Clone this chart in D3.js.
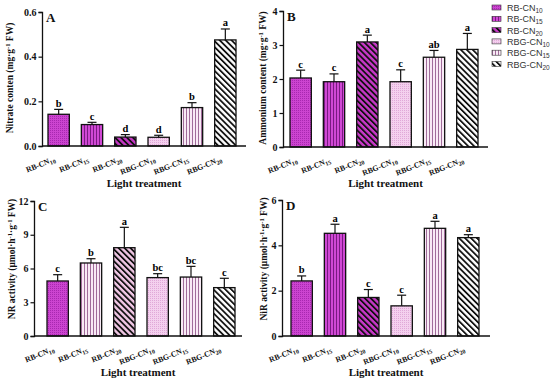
<!DOCTYPE html>
<html>
<head>
<meta charset="utf-8">
<script src="https://cdn.jsdelivr.net/npm/d3@7"></script>
<style>
  body { margin: 0; background: #fff; }
  svg { display: block; }
</style>
</head>
<body>
<svg id="chart" width="550" height="381"></svg>
<script>
// treatments
const labelBase = ['RB-CN', 'RB-CN', 'RB-CN', 'RBG-CN', 'RBG-CN', 'RBG-CN']
const labelSub = ['10', '15', '20', '10', '15', '20']

// panel A - nitrate
const nitrate = [0.142, 0.096, 0.040, 0.039, 0.172, 0.475]
const nitrateErr = [0.022, 0.010, 0.011, 0.009, 0.022, 0.049]
const nitrateSig = ['b', 'c', 'd', 'd', 'b', 'a']

// panel B - ammonium
const ammonium = [2.03, 1.92, 3.09, 1.92, 2.64, 2.87]
const ammoniumErr = [0.23, 0.23, 0.20, 0.35, 0.20, 0.47]
const ammoniumSig = ['c', 'c', 'a', 'c', 'ab', 'a']

// panel C - NR activity
const nr = [4.89, 6.49, 7.85, 5.19, 5.24, 4.30]
const nrErr = [0.56, 0.38, 1.81, 0.35, 0.95, 0.83]
const nrSig = ['c', 'b', 'a', 'bc', 'bc', 'c']

// panel D - NiR activity
const nir = [2.43, 4.53, 1.70, 1.33, 4.75, 4.34]
const nirErr = [0.22, 0.40, 0.35, 0.47, 0.31, 0.13]
const nirSig = ['b', 'a', 'c', 'c', 'a', 'a']

const svg = d3.select('#chart')
const serif = '"Liberation Serif", "Times New Roman", serif'
const sans = '"Liberation Sans", Arial, sans-serif'

// fill patterns
const defs = svg.append('defs')

function dotPattern (id, bg, dot) {
  const p = defs.append('pattern').attr('id', id)
    .attr('width', 2).attr('height', 2).attr('patternUnits', 'userSpaceOnUse')
  p.append('rect').attr('width', 2).attr('height', 2).attr('fill', bg)
  p.append('rect').attr('width', 1).attr('height', 1).attr('fill', dot)
}

function stripePattern (id, bg, line, period, lw, angle) {
  const p = defs.append('pattern').attr('id', id)
    .attr('width', period).attr('height', period).attr('patternUnits', 'userSpaceOnUse')
    .attr('patternTransform', 'rotate(' + angle + ')')
  p.append('rect').attr('width', period).attr('height', period).attr('fill', bg)
  p.append('rect').attr('width', lw).attr('height', period).attr('fill', line)
}

dotPattern('rb10', '#cc44d0', '#a828b0')
stripePattern('rb15', '#d048d4', '#7a1a82', 3, 1, 0)
stripePattern('rb20', '#c838c8', '#111', 4.2, 1.8, -45)
dotPattern('rbg10', '#f4d0ee', '#e0a8d8')
stripePattern('rbg15', '#f8eaf5', '#a06c9a', 3, 1, 0)
stripePattern('rbg20', '#ffffff', '#111', 4.2, 1.8, -45)
stripePattern('rbgp20', '#f2c8e6', '#111', 4.2, 1.8, -45)

const legendKeys = ['rb10', 'rb15', 'rb20', 'rbg10', 'rbg15', 'rbg20']

const panels = [
  {
    letter: 'A', values: nitrate, errs: nitrateErr, sig: nitrateSig,
    fills: legendKeys, max: 0.6, ticks: [0, 0.2, 0.4, 0.6], fmt: d3.format('.1f'),
    axisX: 42, axisEnd: 246, band: [42, 242], top: 12, bottom: 146,
    ylabel: ['Nitrate conten (mg·g', '-1', ' FW)'], ylabelX: 10, ylabelY: 78, titleY: 187
  },
  {
    letter: 'B', values: ammonium, errs: ammoniumErr, sig: ammoniumSig,
    fills: legendKeys, max: 4, ticks: [0, 1, 2, 3, 4], fmt: d3.format('d'),
    axisX: 283, axisEnd: 488, band: [284, 484], top: 11, bottom: 147,
    ylabel: ['Ammonium content (mg·g', '-1', ' FW)'], ylabelX: 263, ylabelY: 78, titleY: 187
  },
  {
    letter: 'C', values: nr, errs: nrErr, sig: nrSig,
    fills: ['rb10', 'rbg15', 'rbgp20', 'rbg10', 'rbg15', 'rbg20'], max: 12, ticks: [0, 3, 6, 9, 12], fmt: d3.format('d'),
    axisX: 34, axisEnd: 242, band: [41, 241], top: 201, bottom: 336,
    ylabel: ['NR activity (μmol·h', '-1', '·g', '-1', ' FW)'], ylabelX: 12, ylabelY: 259, titleY: 376
  },
  {
    letter: 'D', values: nir, errs: nirErr, sig: nirSig,
    fills: legendKeys, max: 6, ticks: [0, 2, 4, 6], fmt: d3.format('d'),
    axisX: 282, axisEnd: 490, band: [285, 485], top: 200, bottom: 336,
    ylabel: ['NiR activity (μmol·h', '-1', '·g', '-1', ' FW)'], ylabelX: 264, ylabelY: 259, titleY: 376
  }
]

panels.forEach(drawPanel)

function drawPanel (p) {
  const g = svg.append('g')
  const idx = d3.range(p.values.length)
  const x = d3.scaleBand().domain(idx).range(p.band).paddingInner(0.36).paddingOuter(0.18)
  const y = d3.scaleLinear().domain([0, p.max]).range([p.bottom, p.top])

  // bars
  g.selectAll('rect.bar').data(idx).join('rect')
    .attr('class', 'bar')
    .attr('x', i => x(i))
    .attr('y', i => y(p.values[i]))
    .attr('width', x.bandwidth())
    .attr('height', i => y(0) - y(p.values[i]))
    .attr('fill', i => 'url(#' + p.fills[i] + ')')
    .attr('stroke', '#111')
    .attr('stroke-width', 1.3)

  // error bars (upper only)
  const eb = g.selectAll('g.err').data(idx).join('g').attr('class', 'err')
    .attr('stroke', '#111').attr('stroke-width', 1.2)
  eb.append('line')
    .attr('x1', i => x(i) + x.bandwidth() / 2)
    .attr('x2', i => x(i) + x.bandwidth() / 2)
    .attr('y1', i => y(p.values[i]))
    .attr('y2', i => y(p.values[i] + p.errs[i]))
  eb.append('line')
    .attr('x1', i => x(i) + x.bandwidth() / 2 - 4.5)
    .attr('x2', i => x(i) + x.bandwidth() / 2 + 4.5)
    .attr('y1', i => y(p.values[i] + p.errs[i]))
    .attr('y2', i => y(p.values[i] + p.errs[i]))

  // significance letters
  g.selectAll('text.sig').data(idx).join('text')
    .attr('class', 'sig')
    .attr('x', i => x(i) + x.bandwidth() / 2)
    .attr('y', i => y(p.values[i] + p.errs[i]) - 2.5)
    .attr('text-anchor', 'middle')
    .style('font-family', serif).style('font-weight', 'bold').style('font-size', '10.5px')
    .text(i => p.sig[i])

  // y axis
  const yAxis = g.append('g')
    .attr('transform', 'translate(' + p.axisX + ',0)')
    .call(d3.axisLeft(y).tickValues(p.ticks).tickFormat(p.fmt).tickSize(3.5).tickPadding(2))
  yAxis.select('.domain').attr('stroke', '#111').attr('stroke-width', 1.3)
  yAxis.selectAll('.tick line').attr('stroke', '#111').attr('stroke-width', 1.2)
  yAxis.selectAll('.tick text')
    .style('font-family', serif).style('font-weight', 'bold').style('font-size', '10px').attr('fill', '#111')

  // x axis line
  g.append('line')
    .attr('x1', p.axisX).attr('x2', p.axisEnd)
    .attr('y1', p.bottom).attr('y2', p.bottom)
    .attr('stroke', '#111').attr('stroke-width', 1.4)

  // rotated category labels
  const lbl = g.selectAll('text.cat').data(idx).join('text')
    .attr('class', 'cat')
    .attr('transform', i => 'translate(' + (x(i) + x.bandwidth() / 2 - 3) + ',' + (p.bottom + 15) + ') rotate(-22)')
    .attr('text-anchor', 'end')
    .style('font-family', serif).style('font-weight', 'bold').style('font-size', '7.8px').attr('fill', '#111')
  lbl.append('tspan').text(i => labelBase[i])
  lbl.append('tspan').attr('dy', 2).style('font-size', '6px').text(i => labelSub[i])

  // x title
  const cx = (p.axisX + p.axisEnd) / 2
  g.append('text')
    .attr('x', cx).attr('y', p.titleY)
    .attr('text-anchor', 'middle')
    .style('font-family', serif).style('font-weight', 'bold').style('font-size', '11px').attr('fill', '#111')
    .text('Light treatment')

  // y title
  const yt = g.append('text')
    .attr('transform', 'translate(' + p.ylabelX + ',' + p.ylabelY + ') rotate(-90)')
    .attr('text-anchor', 'middle')
    .attr('dominant-baseline', 'central')
    .style('font-family', serif).style('font-weight', 'bold').style('font-size', '9.5px').attr('fill', '#111')
  p.ylabel.forEach((s, k) => {
    const t = yt.append('tspan').text(s)
    if (k % 2 === 1) t.attr('dy', -3).style('font-size', '6.5px')
    else if (k > 0) t.attr('dy', 3)
  })

  // panel letter
  g.append('text')
    .attr('x', p.axisX + 4).attr('y', p.top + 10)
    .style('font-family', serif).style('font-weight', 'bold').style('font-size', '13px').attr('fill', '#111')
    .text(p.letter)
}

// legend
const legend = svg.append('g').attr('transform', 'translate(492,8)')
const row = legend.selectAll('g').data(legendKeys).join('g')
  .attr('transform', (d, i) => 'translate(0,' + i * 11.3 + ')')
row.append('rect')
  .attr('x', 0).attr('y', -3).attr('width', 9).attr('height', 5)
  .attr('fill', d => 'url(#' + d + ')')
  .attr('stroke', '#333').attr('stroke-width', 0.6)
const lt = row.append('text')
  .attr('x', 15).attr('y', 3)
  .style('font-family', sans).style('font-size', '9px').attr('fill', '#333')
lt.append('tspan').text((d, i) => labelBase[i])
lt.append('tspan').attr('dy', 2).style('font-size', '6.5px').text((d, i) => labelSub[i])
</script>
</body>
</html>
